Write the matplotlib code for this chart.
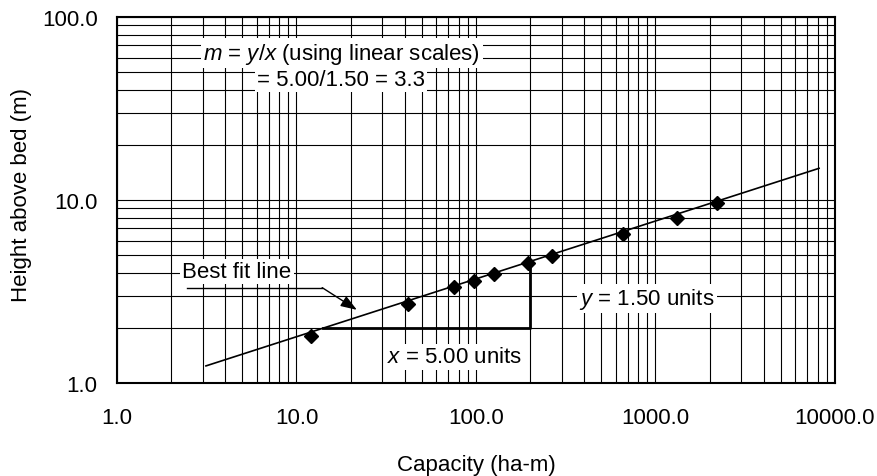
import matplotlib
matplotlib.use("Agg")
import matplotlib.pyplot as plt
from matplotlib.ticker import FormatStrFormatter, NullFormatter

# capacity (ha-m) vs height above bed (m)
capacity = [12.0, 41.8, 75.4, 97.5, 126.0, 195.0, 265.0, 659.0, 1318.0, 2202.0]
height = [1.81, 2.71, 3.36, 3.62, 3.96, 4.54, 4.97, 6.55, 8.02, 9.57]

# best fit line end points
fit_x = [3.13, 8150.0]
fit_y = [1.24, 14.9]

# slope triangle (x run along bottom, y rise on the right)
tri_x = [14.0, 200.0, 200.0]
tri_y = [2.0, 2.0, 4.6]

plt.rcParams["font.family"] = ["Liberation Sans", "DejaVu Sans"]
plt.rcParams["mathtext.fontset"] = "custom"
plt.rcParams["mathtext.it"] = "Liberation Sans:italic"
plt.rcParams["mathtext.rm"] = "Liberation Sans"

fig = plt.figure(figsize=(8.78, 4.77), dpi=100)
ax = fig.add_axes([117 / 878, 1 - 384 / 477, 718 / 878, 366 / 477])
ax.set_xscale("log")
ax.set_yscale("log")
ax.set_xlim(1, 10000)
ax.set_ylim(1, 100)

ax.grid(which="both", color="black", lw=0.8)
ax.set_axisbelow(True)
for s in ax.spines.values():
    s.set_linewidth(1.5)
ax.tick_params(which="both", length=0, labelsize=16)
ax.tick_params(axis="x", pad=17)
ax.tick_params(axis="y", pad=14)
ax.xaxis.set_major_formatter(FormatStrFormatter("%.1f"))
ax.yaxis.set_major_formatter(FormatStrFormatter("%.1f"))
ax.xaxis.set_minor_formatter(NullFormatter())
ax.yaxis.set_minor_formatter(NullFormatter())

ax.plot(fit_x, fit_y, color="black", lw=1.2, zorder=3)
ax.plot(tri_x, tri_y, color="black", lw=2.0, zorder=3)
ax.plot(capacity, height, "D", color="black", ms=7, zorder=4)

box = dict(boxstyle="square,pad=0.1", fc="white", ec="none")
ax.text(17.9, 63.5, "$m$ = $y$/$x$ (using linear scales)", ha="center",
        va="center", fontsize=16, bbox=box, zorder=5)
ax.text(17.7, 45.7, "= 5.00/1.50 = 3.3", ha="center", va="center",
        fontsize=16, bbox=box, zorder=5)
ax.text(76.4, 1.39, "$x$ = 5.00 units", ha="center", va="center",
        fontsize=16, bbox=box, zorder=5)
ax.text(897, 2.89, "$y$ = 1.50 units", ha="center", va="center",
        fontsize=16, bbox=box, zorder=5)
ax.text(4.66, 4.06, "Best fit line", ha="center", va="center",
        fontsize=16, bbox=box, zorder=5)

# bent leader to the fit line
ax.plot([2.45, 13.9], [3.32, 3.32], color="black", lw=1.0, zorder=5)
ax.annotate("", xy=(21.7, 2.51), xytext=(13.9, 3.32),
            arrowprops=dict(arrowstyle="-|>,head_length=0.7,head_width=0.25",
                            color="black", lw=1.0, mutation_scale=14,
                            shrinkA=0, shrinkB=0),
            zorder=5)

ax.set_xlabel("Capacity (ha-m)", fontsize=16, va="center")
ax.set_ylabel("Height above bed (m)", fontsize=16, va="center")
ax.xaxis.set_label_coords(0.5, (384 - 465) / 366)
ax.yaxis.set_label_coords((22 - 117) / 718, (384 - 195) / 366)

fig.savefig("out.png", dpi=100)
